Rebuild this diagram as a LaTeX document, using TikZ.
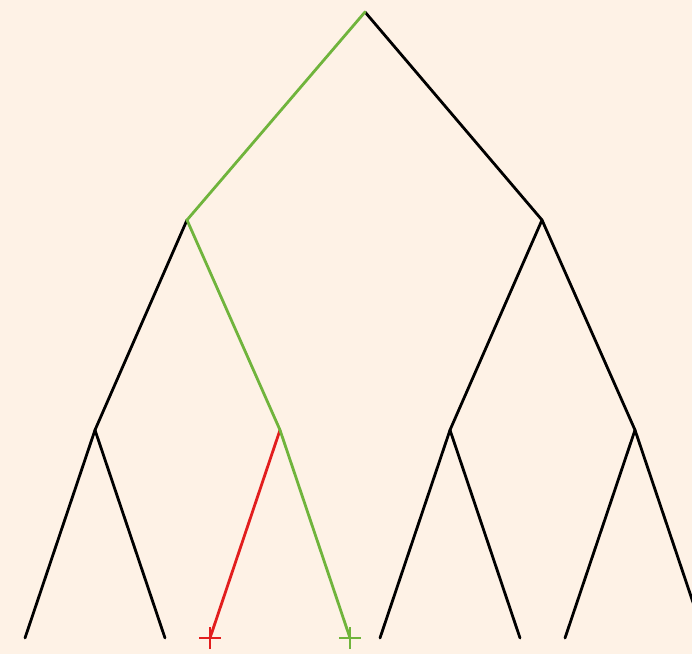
\documentclass[tikz,border=0pt]{standalone}
\definecolor{bg}{RGB}{254,242,230}
\definecolor{pathgreen}{RGB}{112,180,60}
\definecolor{pathred}{RGB}{226,30,30}
\tikzset{
  edge/.style={line width=2.8pt, black, line cap=round},
  gedge/.style={line width=2.8pt, pathgreen, line cap=round},
  redge/.style={line width=2.8pt, pathred, line cap=round},
}
\begin{document}
\begin{tikzpicture}[x=1pt,y=-1pt]
\fill[bg] (0,0) rectangle (692,654);
\useasboundingbox (0,0) rectangle (692,654);
\coordinate (r) at (365,12);
\coordinate (a) at (187,220);
\coordinate (b) at (542,220);
\coordinate (aa) at (95,430);
\coordinate (ab) at (280,430);
\coordinate (ba) at (450,430);
\coordinate (bb) at (635,430);
\coordinate (l1) at (25,638);
\coordinate (l2) at (165,638);
\coordinate (l3) at (210,638);
\coordinate (l4) at (350,638);
\coordinate (l5) at (380,638);
\coordinate (l6) at (520,638);
\coordinate (l7) at (565,638);
\coordinate (l8) at (705,638);
\begin{scope}
\clip (0,0) rectangle (692,654);
\draw[edge] (r) -- (b);
\draw[edge] (a) -- (aa);
\draw[edge] (b) -- (ba);
\draw[edge] (b) -- (bb);
\draw[edge] (aa) -- (l1);
\draw[edge] (aa) -- (l2);
\draw[edge] (ba) -- (l5);
\draw[edge] (ba) -- (l6);
\draw[edge] (bb) -- (l7);
\draw[edge] (bb) -- (l8);
\draw[redge] (ab) -- (l3);
\draw[gedge] (r) -- (a) -- (ab) -- (l4);
\end{scope}
\draw[line width=2.8pt, pathred] ([xshift=-11pt]l3) -- ([xshift=11pt]l3) ([yshift=-11pt]l3) -- ([yshift=11pt]l3);
\draw[line width=2.8pt, pathgreen] ([xshift=-11pt]l4) -- ([xshift=11pt]l4) ([yshift=-11pt]l4) -- ([yshift=11pt]l4);
\end{tikzpicture}
\end{document}
